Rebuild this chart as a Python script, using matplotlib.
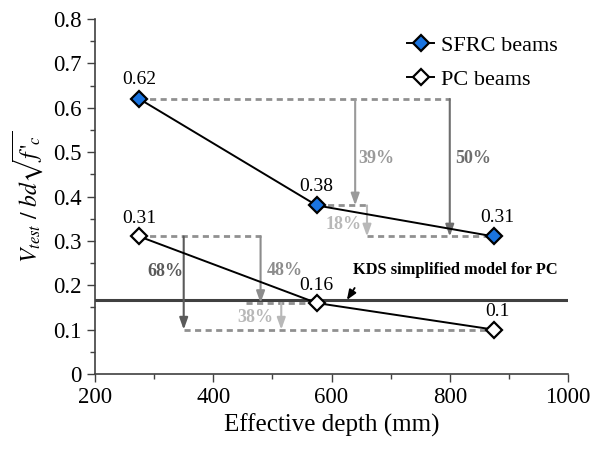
import matplotlib
matplotlib.use("Agg")
import matplotlib.pyplot as plt
from matplotlib.ticker import MultipleLocator

plt.rcParams['font.family'] = ['Liberation Serif', 'DejaVu Serif']
plt.rcParams['mathtext.fontset'] = 'stix'

# data
depth = [275, 575, 875]
sfrc = [0.62, 0.38, 0.31]
pc = [0.31, 0.16, 0.10]
kds_level = 0.167

# reference dashed levels: (y, x_start, x_end)
sfrc_dashes = [(0.62, 275, 800), (0.38, 575, 660), (0.31, 660, 875)]
pc_dashes = [(0.31, 275, 480), (0.16, 455, 575), (0.10, 350, 875)]

# drop arrows: (x, y_from, y_to, label, label_x, label_y, colour)
drops = [
    (640, 0.62, 0.38, "39%", 646, 0.486, "#9a9a9a"),
    (800, 0.62, 0.31, "50%", 810, 0.486, "#6e6e6e"),
    (660, 0.38, 0.31, "18%", 590, 0.337, "#b8b8b8"),
    (350, 0.31, 0.10, "68%", 288, 0.232, "#5a5a5a"),
    (480, 0.31, 0.16, "48%", 490, 0.234, "#8c8c8c"),
    (515, 0.16, 0.10, "38%", 441, 0.128, "#b8b8b8"),
]

fig = plt.figure(figsize=(5.92, 4.55), dpi=100)
ax = fig.add_axes([0.1605, 0.178, 0.799, 0.780])

# KDS line
ax.axhline(kds_level, color="#404040", lw=2.2, zorder=1)

for y, x0, x1 in sfrc_dashes + pc_dashes:
    ax.plot([x0, x1], [y, y], color="#909090", lw=2, dashes=(2.2, 1.6), zorder=2)

for x, y0, y1, lab, lx, ly, c in drops:
    ax.annotate("", xy=(x, y1), xytext=(x, y0),
                arrowprops=dict(arrowstyle="-|>,head_length=0.7,head_width=0.25",
                                color=c, lw=1.5, shrinkA=0, shrinkB=0), zorder=3)
    ax.text(lx, ly, lab, color=c, fontsize=13, fontweight="bold", va="center", ha="left")

ax.plot(depth, sfrc, color="black", lw=1.4, marker="D", ms=8, mfc="#1a74e0",
        mec="black", mew=1.6, label="SFRC beams", zorder=5)
ax.plot(depth, pc, color="black", lw=1.4, marker="D", ms=8, mfc="white",
        mec="black", mew=1.6, label="PC beams", zorder=5)

for x, y in zip(depth, sfrc):
    ax.text(x + (5 if x == 875 else 0), y + 0.033, f"{y:g}", ha="center", fontsize=14)
for x, y in zip(depth, pc):
    ax.text(x + (5 if x == 875 else 0), y + 0.03, f"{y:g}", ha="center", fontsize=14)

ax.annotate("KDS simplified model for PC", xy=(626, kds_level), xytext=(636, 0.234),
            fontsize=11.8, fontweight="bold", va="center", ha="left",
            arrowprops=dict(arrowstyle="-|>,head_length=0.5,head_width=0.2",
                            color="black", lw=1.3, shrinkA=6, shrinkB=0,
                            relpos=(0.04, 0.0)))

ax.set_xlim(200, 1000)
ax.set_ylim(0, 0.8)
ax.xaxis.set_major_locator(MultipleLocator(200))
ax.xaxis.set_minor_locator(MultipleLocator(100))
ax.yaxis.set_major_locator(MultipleLocator(0.1))
ax.yaxis.set_minor_locator(MultipleLocator(0.05))
ax.yaxis.set_major_formatter(plt.FuncFormatter(lambda v, p: f"{v:g}"))
ax.tick_params(which="major", direction="out", length=6, width=1, color="#404040",
               labelsize=16.5)
ax.tick_params(which="minor", direction="out", length=3.5, width=1, color="#404040")
for s in ["top", "right"]:
    ax.spines[s].set_visible(False)
for s in ["left", "bottom"]:
    ax.spines[s].set_color("#404040")
    ax.spines[s].set_linewidth(1.2)

ax.set_xlabel("Effective depth (mm)", fontsize=18, labelpad=4)
ax.set_ylabel(r"$V_{test}\ /\ bd\sqrt{f\,'_c}$", fontsize=17, labelpad=6)

ax.legend(loc="upper right", frameon=False, fontsize=16, handlelength=1.2,
          handletextpad=0.3, labelspacing=0.6, bbox_to_anchor=(1.02, 1.01))

fig.savefig("out.png", dpi=100)
